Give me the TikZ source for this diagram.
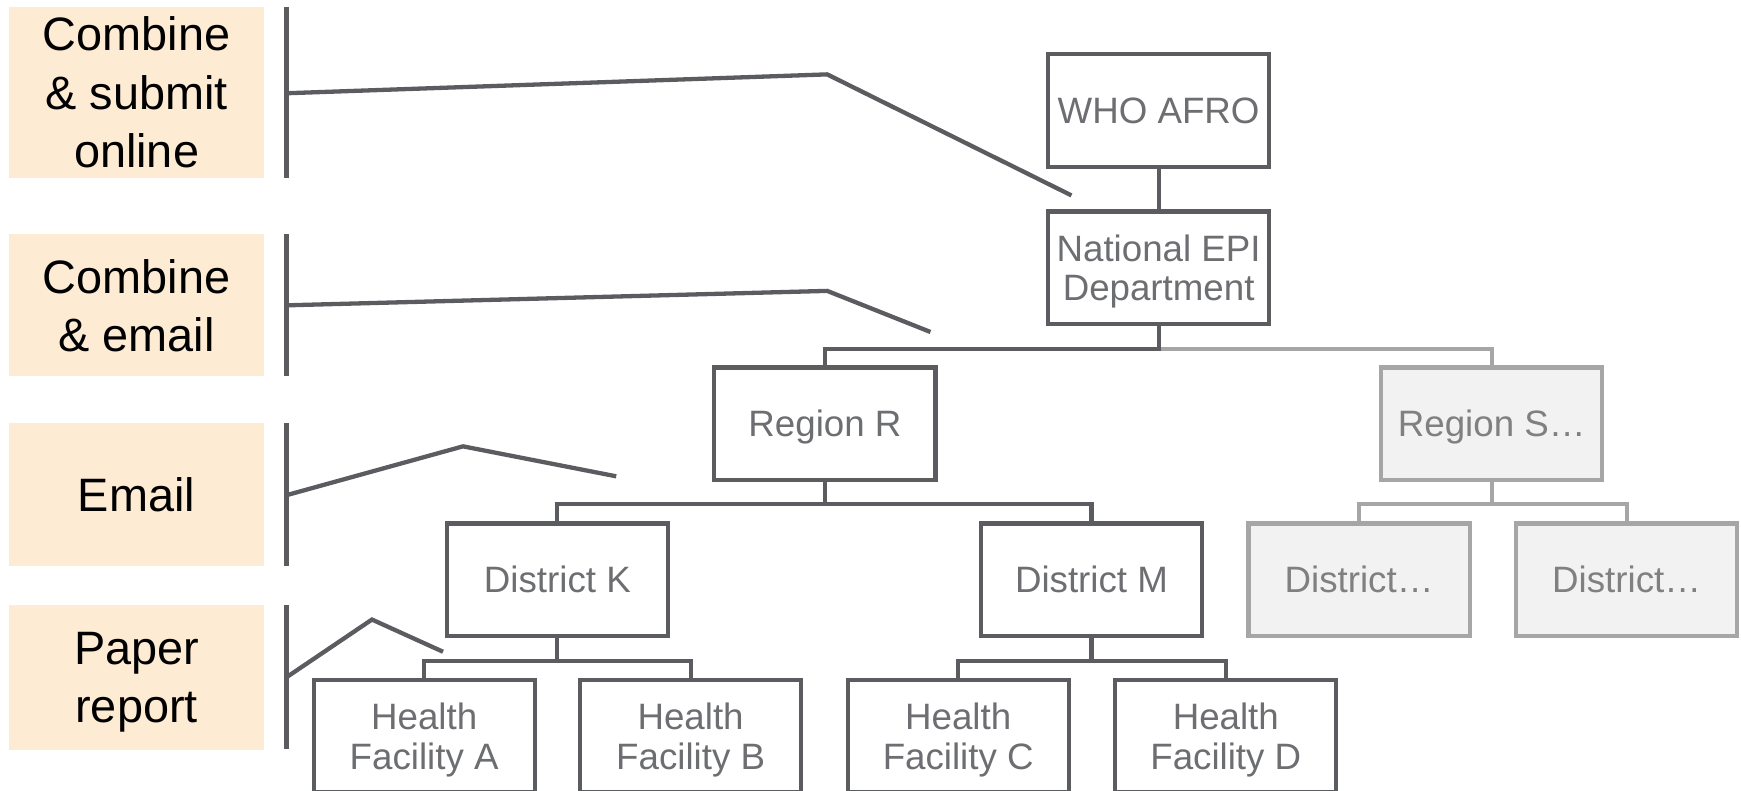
\documentclass[tikz,border=0pt]{standalone}
\usepackage{fontspec}
\setmainfont{Liberation Sans}
\definecolor{beige}{HTML}{FDEBD4}
\definecolor{dk}{HTML}{5B5C60}
\definecolor{dktext}{HTML}{6D6E71}
\definecolor{lt}{HTML}{A6A6A6}
\definecolor{ltfill}{HTML}{F2F2F2}
\definecolor{lttext}{HTML}{808080}
\tikzset{
  lab/.style={fill=beige, draw=none, minimum width=2.3cm, align=center, inner sep=0pt,
    font=\fontsize{12}{15}\selectfont, text=black, text depth=0pt},
  orgbox/.style={draw=dk, line width=1.05pt, fill=white, minimum width=1.99cm, minimum height=1.01cm,
    align=center, inner sep=0pt, text=dktext, font=\fontsize{9.4}{10.1}\selectfont, text depth=0pt},
  ghost/.style={orgbox, draw=lt, fill=ltfill, text=lttext},
  link/.style={draw=dk, line width=1.05pt},
  glink/.style={draw=lt, line width=1.05pt},
  brack/.style={draw=dk, line width=1.1pt},
}
\begin{document}
\begin{tikzpicture}[x=0.01cm,y=-0.01cm]
\useasboundingbox (0,0) rectangle (1568,712.4);
\clip (0,0) rectangle (1568,712.4);
% labels
\node[lab, minimum height=1.54cm] (l1) at (123,83) {Combine\\\& submit\\online};
\node[lab, minimum height=1.28cm] (l2) at (123,275) {Combine\\\& email};
\node[lab, minimum height=1.29cm] (l3) at (123,445.5) {Email};
\node[lab, minimum height=1.30cm] (l4) at (123,610) {Paper\\report};
% bracket lines
\coordinate (v1a) at (258,6);   \coordinate (v1b) at (258,160);
\coordinate (v2a) at (258,211); \coordinate (v2b) at (258,339);
\coordinate (v3a) at (258,381); \coordinate (v3b) at (258,510);
\coordinate (v4a) at (258,545); \coordinate (v4b) at (258,675);
\draw[brack] (v1a) -- (v1b);
\draw[brack] (v2a) -- (v2b);
\draw[brack] (v3a) -- (v3b);
\draw[brack] (v4a) -- (v4b);
\coordinate (b1s) at (258,84);  \coordinate (b1m) at (745,67);  \coordinate (b1e) at (965,176);
\coordinate (b2s) at (258,275); \coordinate (b2m) at (745,262); \coordinate (b2e) at (838,299);
\coordinate (b3s) at (258,446); \coordinate (b3m) at (417,402); \coordinate (b3e) at (555,429);
\coordinate (b4s) at (258,610); \coordinate (b4m) at (335,558); \coordinate (b4e) at (399,587);
\draw[brack] (b1s) -- (b1m) -- (b1e);
\draw[brack] (b2s) -- (b2m) -- (b2e);
\draw[brack] (b3s) -- (b3m) -- (b3e);
\draw[brack] (b4s) -- (b4m) -- (b4e);
% tree
\node[orgbox] (who) at (1043.5,99.5) {WHO AFRO};
\node[orgbox] (nat) at (1043.5,241) {National EPI\\Department};
\node[orgbox] (rr) at (743,381.5) {Region R};
\node[ghost] (rs) at (1343.5,381.5) {Region S\ldots};
\node[orgbox] (dk) at (502,522) {District K};
\node[orgbox] (dm) at (983,522) {District M};
\node[ghost] (d1) at (1224,522) {District\ldots};
\node[ghost] (d2) at (1465,522) {District\ldots};
\node[orgbox] (ha) at (382,663) {Health\\Facility A};
\node[orgbox] (hb) at (622,663) {Health\\Facility B};
\node[orgbox] (hc) at (863,663) {Health\\Facility C};
\node[orgbox] (hd) at (1104,663) {Health\\Facility D};
\draw[link] (who.south) -- (nat.north);
\draw[glink] (nat.south) ++(0,21) -| (rs.north);
\draw[link] (nat.south) -- ++(0,21) -| (rr.north);
\draw[link] (rr.south) -- ++(0,20) -| (dk.north);
\draw[link] (rr.south) ++(0,20) -| (dm.north);
\draw[glink] (rs.south) -- ++(0,20) -| (d1.north);
\draw[glink] (rs.south) ++(0,20) -| (d2.north);
\draw[link] (dk.south) -- ++(0,21) -| (ha.north);
\draw[link] (dk.south) ++(0,21) -| (hb.north);
\draw[link] (dm.south) -- ++(0,21) -| (hc.north);
\draw[link] (dm.south) ++(0,21) -| (hd.north);
\end{tikzpicture}
\end{document}
